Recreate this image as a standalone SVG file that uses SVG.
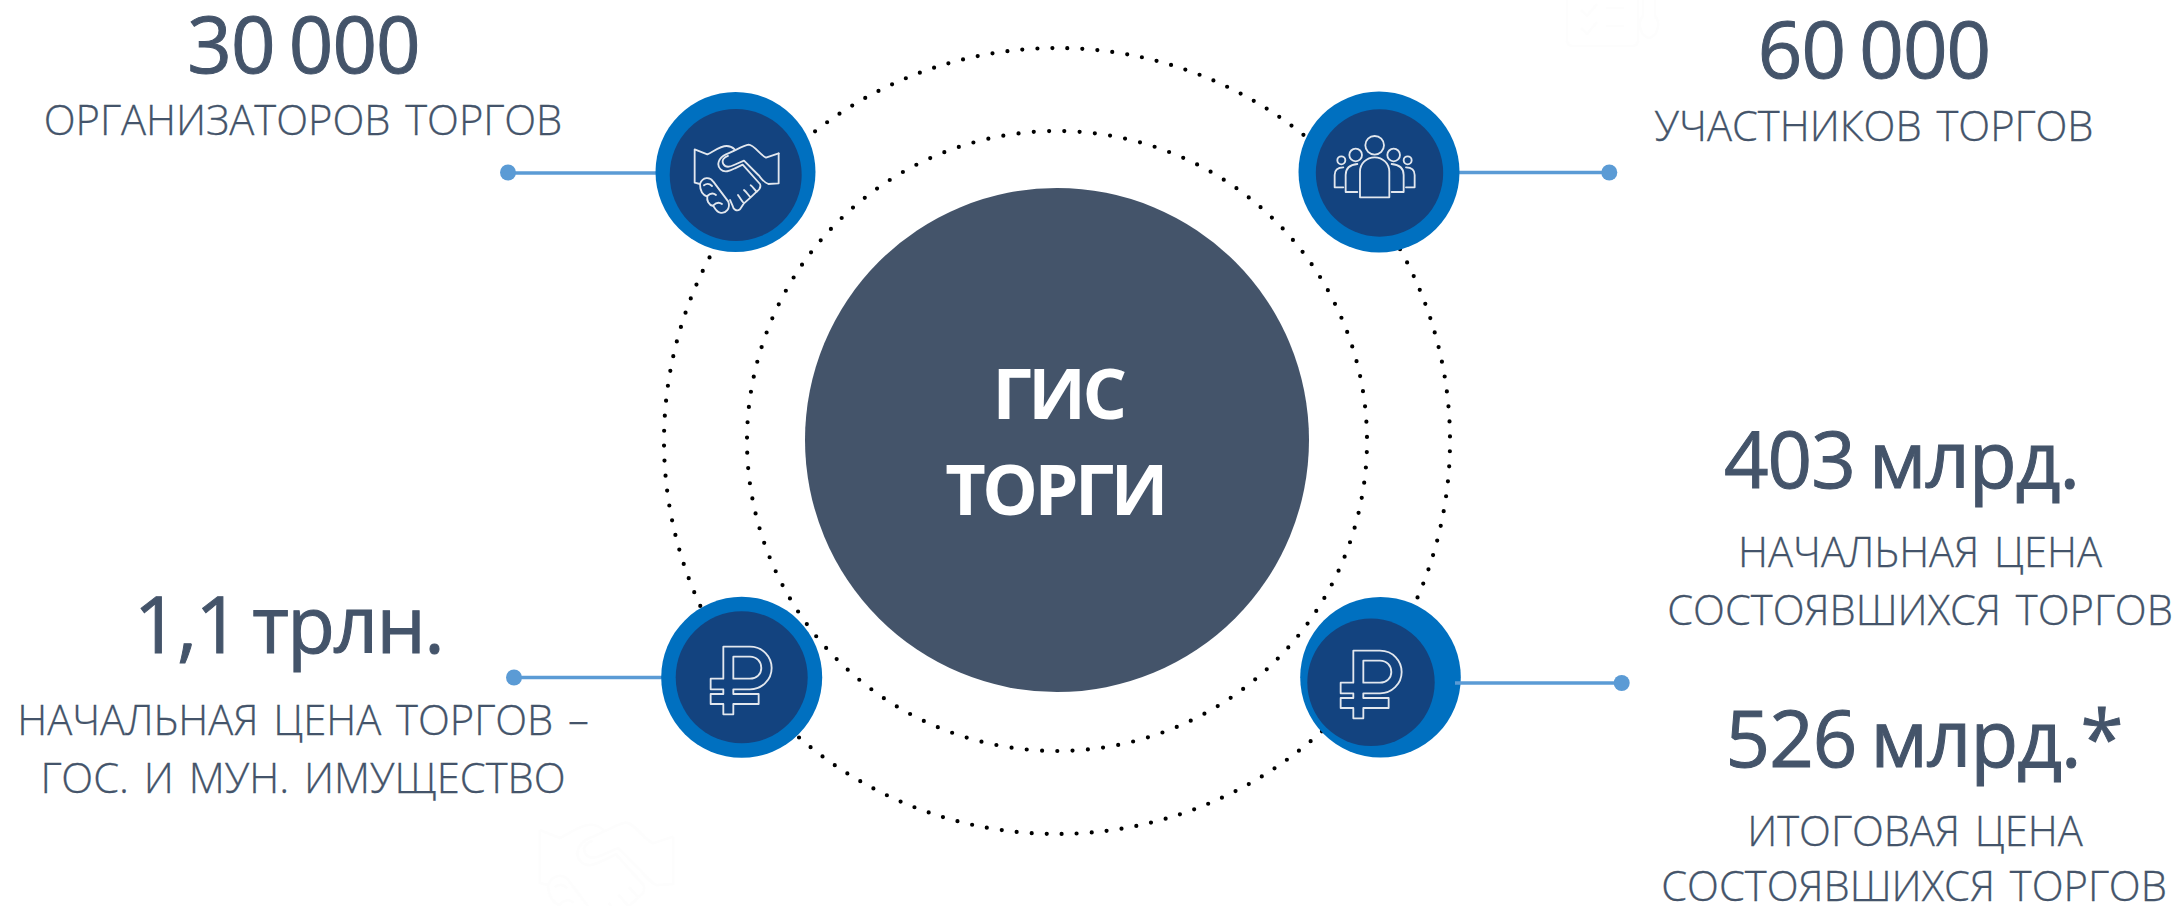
<svg xmlns="http://www.w3.org/2000/svg" width="2178" height="906" viewBox="0 0 2178 906">
<style>
text{font-family:"Open Sans","Noto Sans","Liberation Sans",sans-serif;fill:#44546A;text-anchor:middle}
.big{font-size:78px;font-weight:500;letter-spacing:-1px;word-spacing:-5px;stroke:#44546A;stroke-width:1px}
.sub{font-size:41.700px;font-weight:300;word-spacing:4px;stroke:#44546A;stroke-width:.3px}
.title{font-size:70px;font-weight:700;fill:#fff;letter-spacing:-3.500px}
.ring{fill:none;stroke:#000;stroke-width:4.200;stroke-linecap:round;stroke-dasharray:0 1}
.ln{stroke:#5B9BD5;stroke-width:3.500;fill:none}
.dot{fill:#5B9BD5}
.o{fill:#0070C0}
.i{fill:#13437F}
.ic{fill:none;stroke:#E2E7EE;stroke-width:5.500;stroke-linejoin:round;stroke-linecap:round}
.gh{fill:none;stroke:#FDFDFD;stroke-width:5}
</style>
<defs>
<g id="shake">
<path d="M224,268V368L240,372M224,268L262,283C280,275 300,258 320,258C330,258 338,262 344,268"/>
<path d="M476,280L438,293C420,285 402,254 386,254C370,256 340,275 318,283C296,293 288,315 302,328C314,340 330,332 345,325L368,314L420,372C424,382 420,388 410,395"/>
<path d="M476,280V370L445,372C432,368 425,356 415,345L372,302L342,315C328,322 316,322 310,312C304,300 312,292 324,288"/>
<path d="M410,395C404,390 398,380 392,376M410,395L392,412C386,408 380,396 372,390M392,412L372,430C366,424 360,414 354,405M372,430L360,448C350,456 340,448 338,438L330,420"/>
<path d="M240,372C248,350 270,350 280,365L325,425C332,445 318,462 300,458C290,456 285,445 280,438C265,435 260,420 262,410C248,405 240,390 240,372Z"/>
<path d="M252,376C262,368 270,372 276,378M262,408C270,400 280,398 288,405M280,436C288,428 298,426 306,432"/>
</g>
<g id="rub">
<path d="M310,230H390C430,230 455,262 455,294C455,330 425,358 390,358H340V372H416V402H340V433H310V402H272V372H310V358H272V326H310Z"/>
<path d="M340,260H390C410,260 424,275 424,294C424,312 410,326 390,326H340Z"/>
</g>
</defs>
<g id="ghosts">
<use href="#shake" class="gh" transform="translate(421,688) scale(.53)"/>
<path fill="none" stroke="#FDFDFD" stroke-width="2.500" d="M1567,0V40Q1567,46 1573,46H1632Q1638,46 1638,40V0M1581,10L1587,16L1597,4M1581,28L1587,34L1597,22M1606,8H1624M1606,26H1624M1643,0V16C1637,22 1640,36 1649,38C1658,36 1661,22 1655,16V0"/>
</g>
<g id="rings">
<circle class="ring" cx="1057" cy="441" r="393" pathLength="164" stroke-dashoffset="-0.69"/>
<circle class="ring" cx="1057" cy="441" r="310" pathLength="127" stroke-dashoffset="-0.73"/>
</g>
<g id="connectors">
<path class="ln" d="M508,173H660"/>
<circle class="dot" cx="508" cy="172.500" r="8"/>
<path class="ln" d="M1455,172.500H1609"/>
<circle class="dot" cx="1609.300" cy="172.500" r="8"/>
<path class="ln" d="M514,677.500H670"/>
<circle class="dot" cx="514" cy="677.500" r="8"/>
</g>
<g id="center"><circle cx="1057" cy="440" r="252" fill="#44546A"/>
<text class="title" x="1058" y="419">ГИС</text><text class="title" x="1055" y="515">ТОРГИ</text></g>
<g id="node-org">
<circle class="o" cx="735.500" cy="172" r="80"/><circle class="i" cx="735.700" cy="175" r="66"/>
<use href="#shake" class="ic" transform="translate(620,60) scale(.3333)"/>
</g>
<g id="node-part">
<circle class="o" cx="1379" cy="172" r="80.500"/><circle class="i" cx="1379.500" cy="173" r="63.700"/>
<g class="ic" transform="translate(1270,60) scale(.3333)">
<circle cx="314" cy="256" r="28"/><path d="M270,412V335C270,310 290,292 314,292C338,292 358,310 358,335V412Z"/>
<circle cx="257" cy="285" r="19"/><path d="M262,312C240,314 227,325 227,345V396H262M365,312C388,314 401,325 401,345V396H365"/>
<circle cx="371" cy="285" r="19"/>
<circle cx="214" cy="301" r="12"/><path d="M220,322C202,322 194,332 194,345V382H220M408,322C426,322 434,332 434,345V382H408"/>
<circle cx="413" cy="301" r="12"/>
</g>
</g>
<g id="node-rub1">
<circle class="o" cx="741.700" cy="677.300" r="80.500"/><circle class="i" cx="741.700" cy="677.300" r="66"/>
<use href="#rub" class="ic" transform="translate(620,570) scale(.3333)"/>
</g>
<g id="node-rub2">
<circle class="o" cx="1380.500" cy="677.300" r="80.300"/><circle class="i" cx="1371" cy="682.300" r="63.700"/>
<use href="#rub" class="ic" transform="translate(1250,574) scale(.3333)"/>
<path class="ln" d="M1455,683H1621"/><circle class="dot" cx="1621.700" cy="683" r="8"/>
</g>
<g id="labels">
<text class="big" x="303.500" y="73">30 000</text><text class="sub" x="303" y="135">ОРГАНИЗАТОРОВ ТОРГОВ</text>
<text class="big" x="1874" y="78">60 000</text><text class="sub" x="1874" y="141">УЧАСТНИКОВ ТОРГОВ</text>
<text class="big" x="288.500" y="653" style="letter-spacing:-1.600px">1,1 трлн.</text><text class="sub" x="303" y="735">НАЧАЛЬНАЯ ЦЕНА ТОРГОВ –</text><text class="sub" x="303" y="793">ГОС. И МУН. ИМУЩЕСТВО</text>
<text class="big" x="1901.500" y="488">403 млрд.</text><text class="sub" x="1920" y="567">НАЧАЛЬНАЯ ЦЕНА</text><text class="sub" x="1920" y="625">СОСТОЯВШИХСЯ ТОРГОВ</text>
<text class="big" x="1924" y="767">526 млрд.*</text><text class="sub" x="1915" y="846">ИТОГОВАЯ ЦЕНА</text><text class="sub" x="1914" y="901">СОСТОЯВШИХСЯ ТОРГОВ</text>
</g>
</svg>
